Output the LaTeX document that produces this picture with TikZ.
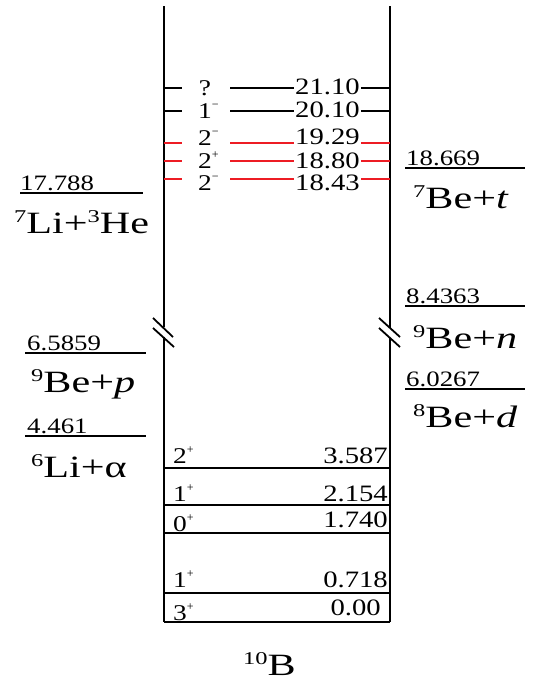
\documentclass[tikz,border=0pt]{standalone}
\usepackage{fontspec}
\usepackage{graphicx}
\setmainfont{Liberation Serif}
\definecolor{lvred}{RGB}{237,28,36}
\tikzset{
  axis/.style={line width=2.2pt},
  lvl/.style={line width=1.8pt},
  numlab/.style={inner sep=0pt, font=\fontsize{23.5}{23.5}\selectfont},
  thrnum/.style={inner sep=0pt, font=\fontsize{22}{22}\selectfont, anchor=base west},
  rx/.style={inner sep=0pt, font=\fontsize{31}{31}\selectfont, anchor=base west},
  spinlab/.style={inner sep=0pt, font=\fontsize{22.5}{22.5}\selectfont, anchor=base west},
}
\newcommand{\hsn}[1]{\scalebox{1.22}[1]{#1}}
\newcommand{\hsr}[1]{\scalebox{1.36}[1]{#1}}
\newcommand{\spsup}[1]{\raisebox{0.42em}{\fontsize{12}{12}\selectfont #1}}
\newcommand{\rxsup}[1]{\raisebox{0.33em}{\fontsize{18}{18}\selectfont #1}}
\begin{document}
\begin{tikzpicture}[x=1pt,y=-1pt]
\useasboundingbox (0,0) rectangle (534,681);
% axes
\coordinate (Ltop) at (164,6);
\coordinate (LbrA) at (164,327);
\coordinate (LbrB) at (164,337);
\coordinate (Lbot) at (164,622);
\coordinate (Rtop) at (390,6);
\coordinate (RbrA) at (390,328);
\coordinate (RbrB) at (390,338);
\coordinate (Rbot) at (390,622);
\draw[axis] (Ltop) -- (LbrA);
\draw[axis] (LbrB) -- (Lbot);
\draw[axis] (Rtop) -- (RbrA);
\draw[axis] (RbrB) -- (Rbot);
% break marks
\draw[lvl] (153,318) -- (173,337);
\draw[lvl] (153,328) -- (174,347);
\draw[lvl] (379,318) -- (400,337);
\draw[lvl] (379,328) -- (400,347);
% upper levels: line y / text centre y / energy / colour
\foreach \y/\t/\e/\c in {88/87/21.10/black, 111/110/20.10/black, 143/137/19.29/lvred, 161/160.5/18.80/lvred, 179/182.5/18.43/lvred}{
  \draw[lvl,\c] (164,\y) -- (182,\y);
  \draw[lvl,\c] (230,\y) -- (294,\y);
  \draw[lvl,\c] (361,\y) -- (390,\y);
  \node[numlab] (e\e) at (327.5,\t) {\hsn{\e}};
}
\node[spinlab, anchor=base] (sq) at (205,95) {\hsn{?}};
\node[spinlab] (s1m) at (198,118) {\hsn{1}\spsup{−}};
\node[spinlab] (s2ma) at (198,145) {\hsn{2}\spsup{−}};
\node[spinlab] (s2p) at (198,168) {\hsn{2}\spsup{+}};
\node[spinlab] (s2mb) at (198,190) {\hsn{2}\spsup{−}};
% lower levels
\foreach \y in {468,505,533,593,622}{
  \draw[lvl] (164,\y) -- (390,\y);
}
\node[spinlab] (b2p) at (173,463) {\hsn{2}\spsup{+}};
\node[numlab, anchor=base east] (b3587) at (388,463) {\hsn{3.587}};
\node[spinlab] (b1p) at (173,501) {\hsn{1}\spsup{+}};
\node[numlab, anchor=base east] (b2154) at (388,501) {\hsn{2.154}};
\node[spinlab] (b0p) at (173,531) {\hsn{0}\spsup{+}};
\node[numlab, anchor=base east] (b1740) at (388,527) {\hsn{1.740}};
\node[spinlab] (b1pb) at (173,587) {\hsn{1}\spsup{+}};
\node[numlab, anchor=base east] (b0718) at (388,587) {\hsn{0.718}};
\node[spinlab] (b3p) at (173,620) {\hsn{3}\spsup{+}};
\node[numlab, anchor=base east] (b000) at (381,615) {\hsn{0.00}};
% left thresholds
\node[thrnum] (t17788) at (20,190) {\hsn{17.788}};
\draw[lvl] (20,193) -- (143,193);
\node[rx] (rLiHe) at (14,233) {\hsr{\rxsup{7}Li+\rxsup{3}He}};
\node[thrnum] (t65859) at (27,350) {\hsn{6.5859}};
\draw[lvl] (25,353) -- (146,353);
\node[rx] (rBep) at (31,392) {\hsr{\rxsup{9}Be+\textit{p}}};
\node[thrnum] (t4461) at (27,433) {\hsn{4.461}};
\draw[lvl] (25,436) -- (146,436);
\node[rx] (rLia) at (31,477) {\hsr{\rxsup{6}Li+α}};
% right thresholds
\node[thrnum] (t18669) at (406,165) {\hsn{18.669}};
\draw[lvl] (405,168) -- (525,168);
\node[rx] (rBet) at (413,208) {\hsr{\rxsup{7}Be+\textit{t}}};
\node[thrnum] (t84363) at (406,303) {\hsn{8.4363}};
\draw[lvl] (405,306) -- (525,306);
\node[rx] (rBen) at (413,348) {\hsr{\rxsup{9}Be+\textit{n}}};
\node[thrnum] (t60267) at (406,386) {\hsn{6.0267}};
\draw[lvl] (405,389) -- (525,389);
\node[rx] (rBed) at (413,427) {\hsr{\rxsup{8}Be+\textit{d}}};
% nucleus
\node[rx] (B10) at (243,675) {\hsr{\rxsup{10}B}};
\end{tikzpicture}
\end{document}
